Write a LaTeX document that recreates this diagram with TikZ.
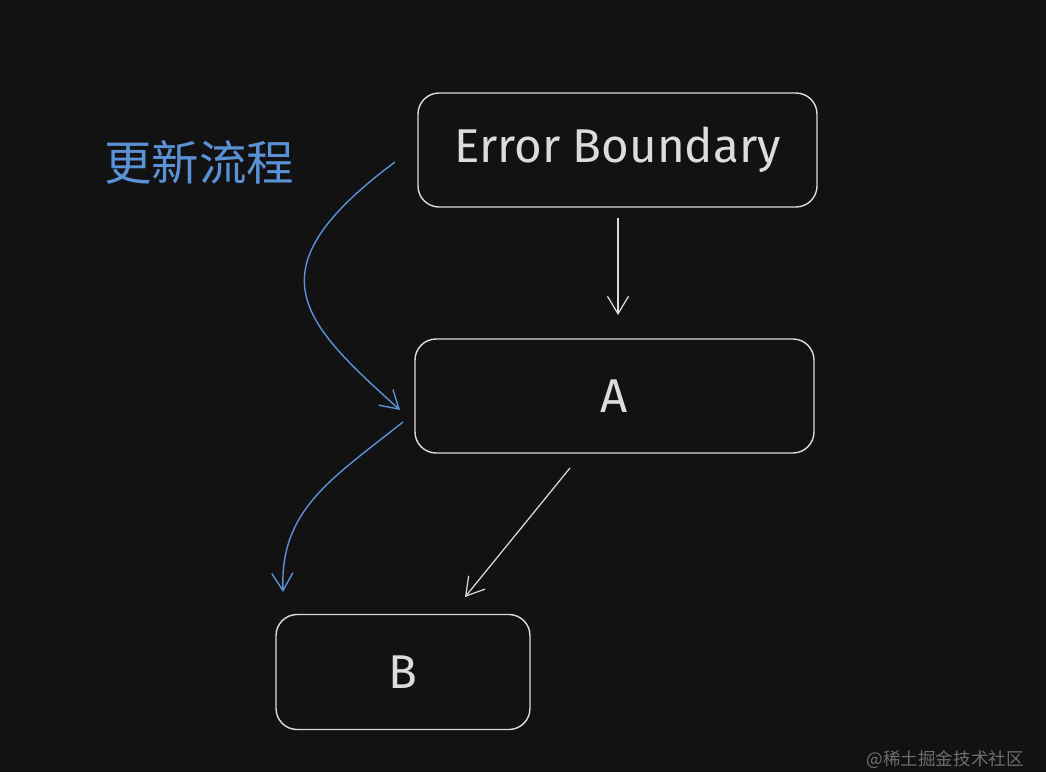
\documentclass[tikz,border=0pt]{standalone}
\usepackage{fontspec}
\setmainfont{Fira Sans}
\newfontfamily\cjk{Noto Sans CJK SC}
\usetikzlibrary{arrows.meta,positioning}
\definecolor{mybg}{RGB}{18,18,18}
\definecolor{myline}{RGB}{220,220,220}
\definecolor{myblue}{RGB}{90,145,215}
\definecolor{mygray}{RGB}{110,110,110}

\begin{document}
\begin{tikzpicture}
    [x=0.02cm,y=-0.02cm,
     box/.style={draw=myline,rounded corners=12pt,line width=0.8pt,text=myline,font=\fontsize{27}{30}\selectfont},
     flow/.style={myline,line width=0.7pt,-{Straight Barb[length=10pt,width=12pt]}},
     upd/.style={myblue,line width=0.8pt,-{Straight Barb[length=10pt,width=12pt]}}]

    \fill[mybg] (0,0) rectangle (1046,772);

    \node[box,minimum width=399*0.02cm,minimum height=114*0.02cm] (eb) at (617.5,150) {Error Boundary};
    \node[box,minimum width=399*0.02cm,minimum height=114*0.02cm] (a) at (614.5,396) {A};
    \node[box,minimum width=254*0.02cm,minimum height=115*0.02cm] (b) at (403,672) {B};

    \node[text=myblue,font=\cjk\fontsize{27}{30}\selectfont] (title) at (199,162) {更新流程};
    \node[text=mygray,font=\cjk\fontsize{10}{12}\selectfont,anchor=south east] (mark) at (1030,775) {@稀土掘金技术社区};

    \coordinate (ebs) at (618,218);
    \coordinate (ae) at (618,315);
    \draw[flow] (ebs) -- (ae);
    \coordinate (as) at (570,468);
    \coordinate (be) at (465,597);
    \draw[flow] (as) -- (be);

    % update path
    \coordinate (u1) at (395,162);
    \coordinate (u2) at (400,410);
    \draw[upd] (u1) .. controls (250,270) and (300,320) .. (u2);
    \coordinate (u3) at (403,422);
    \coordinate (u4) at (283,592);
    \draw[upd] (u3) .. controls (330,480) and (280,510) .. (u4);
\end{tikzpicture}
\end{document}
